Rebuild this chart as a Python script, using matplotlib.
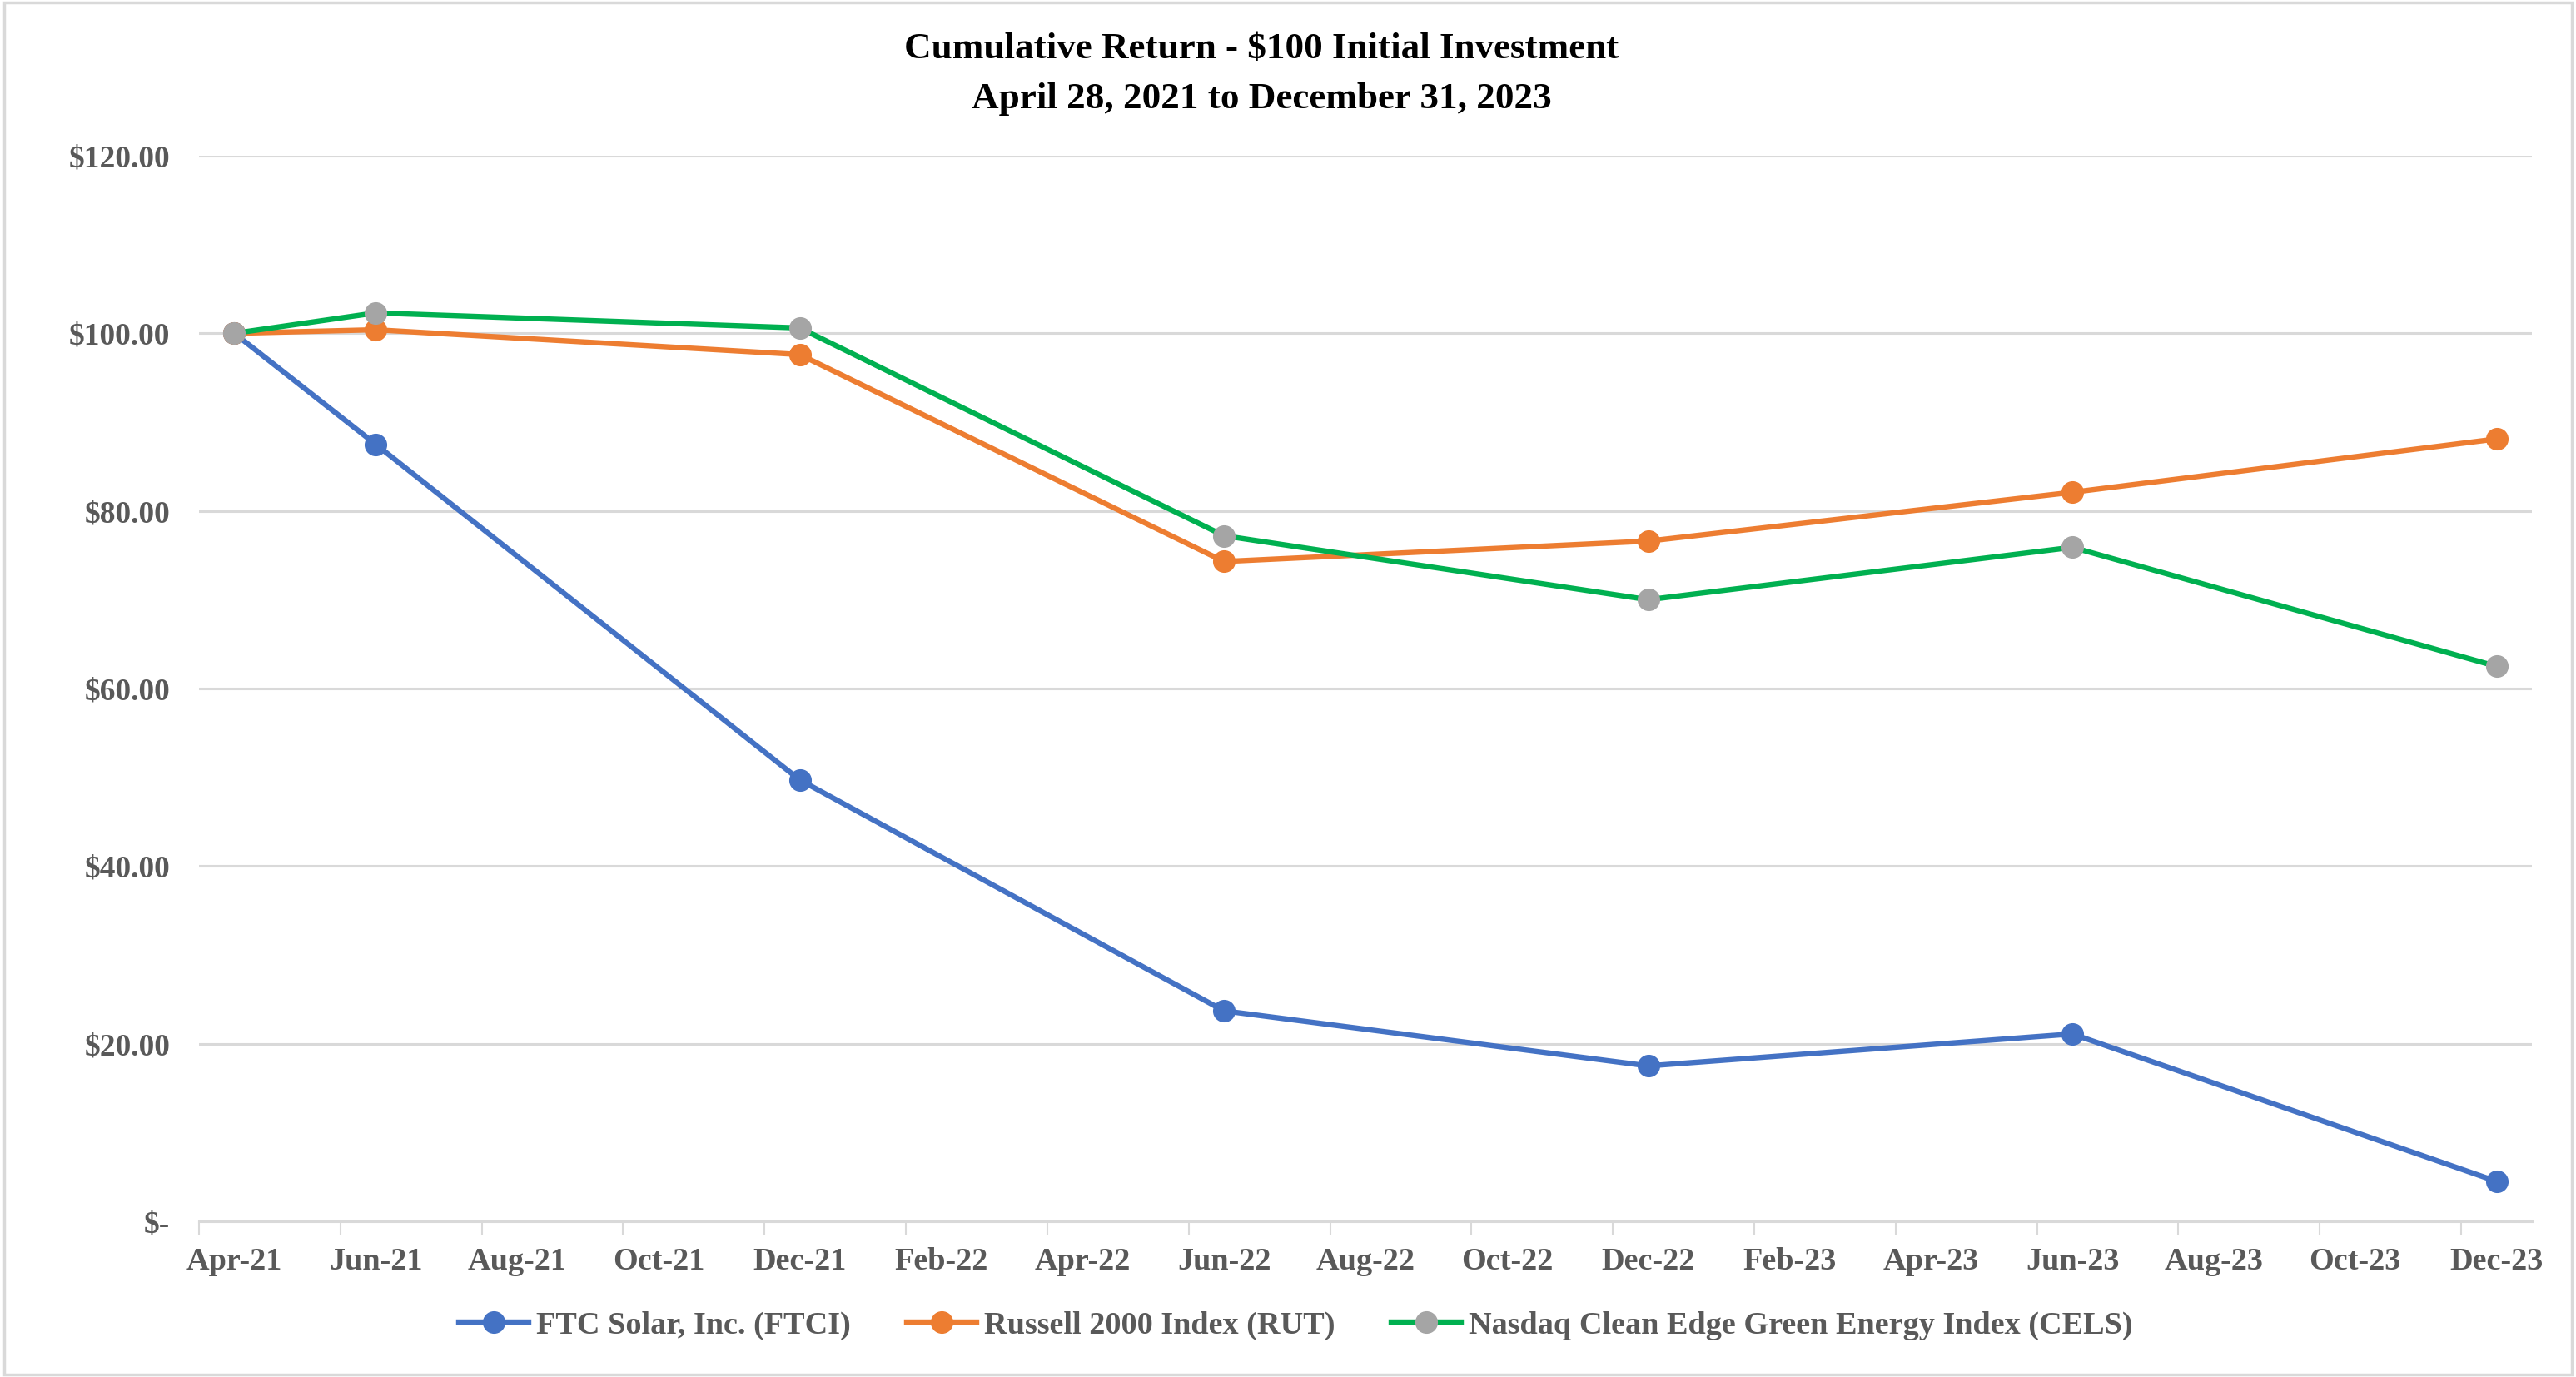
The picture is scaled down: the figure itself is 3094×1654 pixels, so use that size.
import matplotlib
matplotlib.use("Agg")
import matplotlib.pyplot as plt
from matplotlib.lines import Line2D
from matplotlib.patches import Rectangle
import pandas as pd

# ---- data ----
dates = ["2021-04-28", "2021-06-30", "2021-12-31", "2022-06-30",
         "2022-12-31", "2023-06-30", "2023-12-31"]
ftci = [100.00, 87.5, 49.7, 23.7, 17.5, 21.1, 4.5]
rut = [100.00, 100.4, 97.6, 74.3, 76.6, 82.1, 88.1]
cels = [100.00, 102.3, 100.6, 77.2, 70.0, 75.9, 62.5]
series_names = ["FTC Solar, Inc. (FTCI)", "Russell 2000 Index (RUT)",
                "Nasdaq Clean Edge Green Energy Index (CELS)"]
tick_labels = ["Apr-21", "Jun-21", "Aug-21", "Oct-21", "Dec-21", "Feb-22",
               "Apr-22", "Jun-22", "Aug-22", "Oct-22", "Dec-22", "Feb-23",
               "Apr-23", "Jun-23", "Aug-23", "Oct-23", "Dec-23"]
y_ticks = [0, 20, 40, 60, 80, 100, 120]
y_tick_labels = ["$-", "$20.00", "$40.00", "$60.00", "$80.00", "$100.00", "$120.00"]
title_lines = ["Cumulative Return - $100 Initial Investment",
               "April 28, 2021 to December 31, 2023"]

# month-slot positions (Excel date axis with month base unit)
start = pd.Period("2021-04", freq="M")
x = [(pd.Period(d[:7], freq="M") - start).n for d in dates]
n_months = (pd.Period("2023-12", freq="M") - start).n + 1

plt.rcParams['font.family'] = ['Liberation Serif', 'DejaVu Serif']
plt.rcParams['font.weight'] = 'bold'

W, H = 3094, 1654
fig = plt.figure(figsize=(W / 100, H / 100), dpi=100)
fig.patch.set_facecolor("white")
fig.add_artist(Rectangle((0.0015, 0.002), 0.997, 0.996, transform=fig.transFigure,
                         fill=False, edgecolor="#D9D9D9", linewidth=2.5))

ax = fig.add_axes([239 / W, 1 - 1467 / H, (3041 - 239) / W, (1467 - 187) / H])

blue, orange, green, grey = "#4472C4", "#ED7D31", "#00B050", "#A5A5A5"
lw, ms = 4.6, 18.5
ax.plot(x, ftci, color=blue, lw=lw, marker="o", ms=ms, mfc=blue, mec=blue, zorder=3)
ax.plot(x, rut, color=orange, lw=lw, marker="o", ms=ms, mfc=orange, mec=orange, zorder=4)
ax.plot(x, cels, color=green, lw=lw, marker="o", ms=ms, mfc=grey, mec=grey, zorder=5)

ax.set_xlim(-0.5, n_months - 0.5)
ax.set_ylim(0, 120)

ax.set_yticks(y_ticks)
ax.set_yticklabels(y_tick_labels)
ax.tick_params(axis="y", length=0, pad=25, labelsize=27, labelcolor="#595959")
ax.yaxis.grid(True, color="#D9D9D9", lw=2.2)
ax.set_axisbelow(True)

major = [i - 0.5 for i in range(0, n_months + 1, 2)]
ax.set_xticks(major)
ax.set_xticklabels([""] * len(major))
ax.set_xticks(list(range(0, n_months, 2)), minor=True)
ax.set_xticklabels(tick_labels, minor=True)
ax.tick_params(axis="x", which="major", length=12, width=1.5, color="#D9D9D9", direction="out")
ax.tick_params(axis="x", which="minor", length=0, pad=22, labelsize=27.5, labelcolor="#595959")

for s in ["top", "right", "left"]:
    ax.spines[s].set_visible(False)
ax.spines["bottom"].set_color("#D9D9D9")
ax.spines["bottom"].set_linewidth(2.2)

fig.text(0.4898, 1 - 59 / H, title_lines[0], ha="center", va="center", fontsize=32.5,
         fontweight="bold", color="black")
fig.text(0.4898, 1 - 119 / H, title_lines[1], ha="center", va="center", fontsize=32.5,
         fontweight="bold", color="black")

handles = [
    Line2D([], [], color=blue, lw=lw, marker="o", ms=ms, mfc=blue, mec=blue),
    Line2D([], [], color=orange, lw=lw, marker="o", ms=ms, mfc=orange, mec=orange),
    Line2D([], [], color=green, lw=lw, marker="o", ms=ms, mfc=grey, mec=grey),
]
leg = fig.legend(handles, series_names, loc="center", bbox_to_anchor=(0.503, 1 - 1592 / H),
                 ncol=3, frameon=False, fontsize=27.5, handlelength=2.2, handletextpad=0.25,
                 columnspacing=1.75)
for t in leg.get_texts():
    t.set_color("#595959")

fig.savefig("out.png", dpi=100, facecolor="white")
